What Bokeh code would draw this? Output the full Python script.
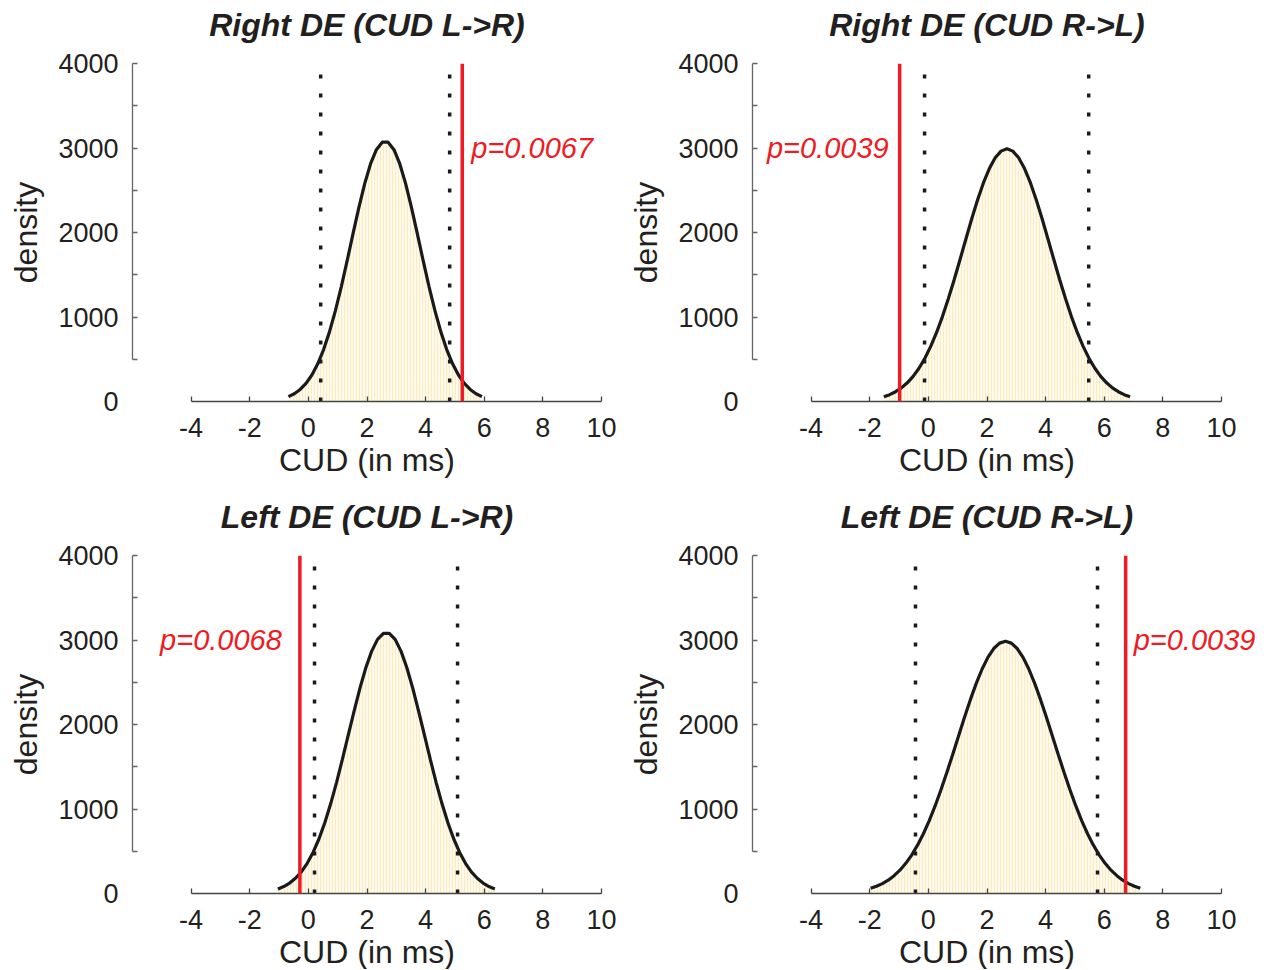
from bokeh.plotting import figure
from bokeh.layouts import gridplot
from bokeh.models import (Range1d, LinearAxis, FixedTicker, Grid, Span, Label, Title,
                          CustomLabelingPolicy)
from bokeh.embed import file_html
from bokeh.resources import INLINE

# ---------------- data ----------------
titles = ["Right DE (CUD L->R)", "Right DE (CUD R->L)",
          "Left DE (CUD L->R)", "Left DE (CUD R->L)"]
x_label = "CUD (in ms)"
y_label = "density"
x_ticks = [-4, -2, 0, 2, 4, 6, 8, 10]
x_tick_labels = {-4: "-4", -2: "-2"}
y_label_ticks = [0, 1000, 2000, 3000, 4000]
y_tick_marks = [500, 1000, 1500, 2000, 2500, 3000, 3500, 4000]

curve_step = 0.2
curve_start = [-0.68, -1.52, -1.04, -1.97]
dens_tl = [58, 92, 143, 215, 314, 446, 615, 824, 1072, 1354, 1661, 1980, 2291, 2575,
           2811, 2980, 3069, 3069, 2980, 2811, 2575, 2291, 1980, 1661, 1354, 1072, 824,
           615, 446, 314, 215, 143, 92, 58]
dens_tr = [56, 81, 116, 161, 221, 298, 394, 511, 652, 817, 1005, 1215, 1441, 1680, 1923,
           2162, 2387, 2589, 2757, 2884, 2963, 2990, 2963, 2884, 2757, 2589, 2387, 2162,
           1923, 1680, 1441, 1215, 1005, 817, 652, 511, 394, 298, 221, 161, 116, 81, 56]
dens_bl = [54, 82, 123, 180, 256, 357, 486, 645, 838, 1061, 1313, 1587, 1873, 2159, 2430,
           2671, 2868, 3007, 3079, 3079, 3007, 2868, 2671, 2430, 2159, 1873, 1587, 1313,
           1061, 838, 645, 486, 357, 256, 180, 123, 82, 54]
dens_br = [61, 85, 117, 158, 211, 276, 357, 455, 572, 707, 863, 1036, 1227, 1432, 1646,
           1865, 2083, 2291, 2484, 2654, 2794, 2899, 2963, 2985, 2963, 2899, 2794, 2654,
           2484, 2291, 2083, 1865, 1646, 1432, 1227, 1036, 863, 707, 572, 455, 357, 276,
           211, 158, 117, 85, 61]
densities = [dens_tl, dens_tr, dens_bl, dens_br]

ci_low = [0.42, -0.13, 0.21, -0.44]
ci_high = [4.82, 5.47, 5.09, 5.77]
observed = [5.25, -0.98, -0.29, 6.73]
p_texts = ["p=0.0067", "p=0.0039", "p=0.0068", "p=0.0039"]
p_text_y = 3000

X_MIN, X_MAX = -6, 10
Y_RANGE = (0, 4000)

# ---------------- style / layout ----------------
FONT = "Liberation Sans"
TXT = "#231f20"
RED = "#ed1c24"
FW, FH = 469, 338
PX_PER_MS = FW / (X_MAX - X_MIN)
EXTRA_RIGHT = 41                      # room inside the frame for the right-hand p text
title_px_width = [315.5, 315.5, 292.4, 292.4]   # 32px bold italic
xlabel_px_width = 176.0                         # 32px regular
text_side = ["left", "right", "right", "left"]
text_dx = [9, -11, -18, 8]

no_labels = CustomLabelingPolicy(code="""
const all = Array.from(indices)
for (const i of all) indices.unset(i)
return indices
""")


def panel(i):
    top_row = i < 2
    right_col = i % 2 == 1
    fw = FW + (EXTRA_RIGHT if right_col else 0)
    x_end = X_MIN + fw / PX_PER_MS
    p = figure(frame_width=fw, frame_height=FH,
               x_range=Range1d(X_MIN, x_end), y_range=Range1d(*Y_RANGE),
               x_axis_location=None, y_axis_location=None,
               toolbar_location=None, output_backend="svg",
               min_border_left=132, min_border_right=2 if right_col else 19,
               min_border_top=63, min_border_bottom=91 if top_row else 0,
               title=titles[i])
    p.center = [r for r in p.center if not isinstance(r, Grid)]
    p.outline_line_color = None
    p.background_fill_color = "white"
    p.border_fill_color = "white"

    # title, centred over the x = -6..10 part of the frame
    p.title.align = "left"
    p.title.offset = FW / 2 - title_px_width[i] / 2
    p.title.standoff = 4
    p.title.padding = dict(left=0, right=0, top=0, bottom=19)
    p.title.text_font = FONT
    p.title.text_font_size = "32px"
    p.title.text_font_style = "bold italic"
    p.title.text_color = TXT

    # x axis
    xa = LinearAxis(ticker=FixedTicker(ticks=x_ticks), bounds=(-4, 10),
                    major_label_overrides=x_tick_labels)
    xa.major_tick_in = 5
    xa.major_tick_out = 0
    xa.minor_tick_in = 0
    xa.minor_tick_out = 0
    xa.axis_line_color = "#444444"
    xa.axis_line_width = 1.3
    xa.major_tick_line_color = "#444444"
    xa.major_tick_line_width = 1.3
    xa.major_label_text_font = FONT
    xa.major_label_text_font_size = "27px"
    xa.major_label_text_color = TXT
    xa.major_label_standoff = 16
    p.add_layout(xa, "below")
    p.add_layout(Title(text=x_label, align="left", offset=FW / 2 - xlabel_px_width / 2,
                       standoff=0, text_font=FONT, text_font_size="32px",
                       text_font_style="normal", text_color=TXT), "below")

    # y axis line + tick marks (inner, next to the frame)
    yl = LinearAxis(ticker=FixedTicker(ticks=y_tick_marks), bounds=(500, 4000),
                    major_label_policy=no_labels)
    yl.major_tick_in = 5
    yl.major_tick_out = 0
    yl.minor_tick_in = 0
    yl.minor_tick_out = 0
    yl.axis_line_color = "#666666"
    yl.axis_line_width = 1.3
    yl.major_tick_line_color = "#666666"
    yl.major_tick_line_width = 1.3
    yl.major_label_text_font_size = "1px"
    yl.major_label_standoff = 0
    p.add_layout(yl, "left")

    # y tick labels + axis label (outer)
    ya = LinearAxis(ticker=FixedTicker(ticks=y_label_ticks), axis_label=y_label)
    ya.axis_line_color = None
    ya.major_tick_line_color = None
    ya.major_tick_in = 0
    ya.major_tick_out = 0
    ya.minor_tick_in = 0
    ya.minor_tick_out = 0
    ya.major_label_text_font = FONT
    ya.major_label_text_font_size = "27px"
    ya.major_label_text_color = TXT
    ya.major_label_standoff = 9
    ya.axis_label_text_font = FONT
    ya.axis_label_text_font_size = "32px"
    ya.axis_label_text_font_style = "normal"
    ya.axis_label_text_color = TXT
    ya.axis_label_standoff = 11
    p.add_layout(ya, "left")

    ys = densities[i]
    xs = [curve_start[i] + curve_step * k for k in range(len(ys))]

    # histogram (pale, finely striped)
    p.varea(x=xs, y1=[0] * len(xs), y2=ys, fill_color="#fffaeb",
            hatch_pattern="|", hatch_color="#f9dd98", hatch_scale=3,
            hatch_weight=0.8, hatch_alpha=0.65)
    # fitted density
    p.line(xs, ys, line_color="#1a1a1a", line_width=3.2)
    # 95% bounds (dotted)
    p.segment(x0=[ci_low[i], ci_high[i]], y0=[Y_RANGE[0]] * 2,
              x1=[ci_low[i], ci_high[i]], y1=[Y_RANGE[1]] * 2,
              line_color="#1a1a1a", line_width=3.5, line_dash="4 15")
    # observed value
    p.add_layout(Span(location=observed[i], dimension="height",
                      line_color=RED, line_width=3.5))
    p.add_layout(Label(x=observed[i], y=p_text_y, x_offset=text_dx[i], text=p_texts[i],
                       text_font=FONT, text_font_style="italic", text_font_size="29px",
                       text_color=RED, text_baseline="middle",
                       text_align="left" if text_side[i] == "left" else "right"))
    return p


plots = [panel(i) for i in range(4)]
grid = gridplot([[plots[0], plots[1]], [plots[2], plots[3]]], toolbar_location=None)

open("out.html", "w").write(file_html(grid, INLINE))
